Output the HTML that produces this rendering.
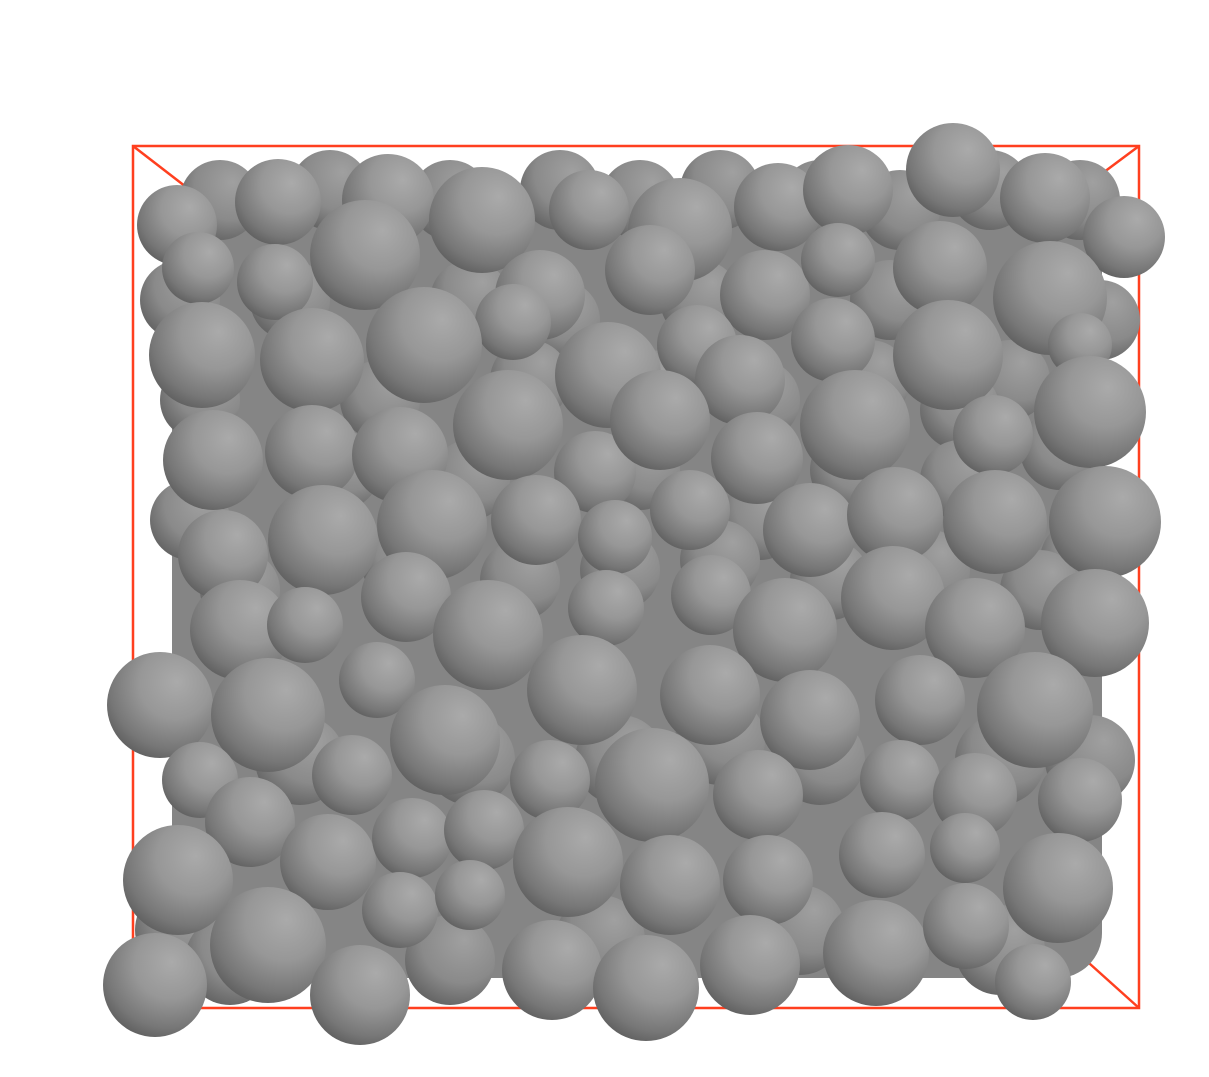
<!DOCTYPE html>
<html><head><meta charset="utf-8"><title>Sphere packing</title>
<style>html,body{margin:0;padding:0;background:#fff;}svg{display:block;}</style></head>
<body>
<svg id="scene" width="1209" height="1077" viewBox="0 0 1209 1077" xmlns="http://www.w3.org/2000/svg">
<defs>
<radialGradient id="sph" cx="0.62" cy="0.32" r="0.75" fx="0.66" fy="0.28">
<stop offset="0" stop-color="#aaaaaa"/>
<stop offset="0.45" stop-color="#979797"/>
<stop offset="0.8" stop-color="#777777"/>
<stop offset="1" stop-color="#5c5c5c"/>
</radialGradient>
<radialGradient id="sphb" cx="0.62" cy="0.32" r="0.75" fx="0.66" fy="0.28">
<stop offset="0" stop-color="#a0a0a0"/>
<stop offset="0.6" stop-color="#8a8a8a"/>
<stop offset="1" stop-color="#606060"/>
</radialGradient>
</defs>
<g id="box" stroke="#ff3f1f" stroke-width="2.5" fill="none">
<path d="M133,146 H1139 V1008 H133 Z"/>
<path d="M133,146 L190,190"/>
<path d="M1139,146 L1088,184"/>
<path d="M1139,1008 L1080,955"/>
</g>
<rect x="172" y="200" width="930" height="778" rx="45" fill="#858585"/>
<g id="back"></g>
<g id="front"></g>
</svg>
<script>
// background (deeper) spheres
const backX = [220,330,450,560,640,720,820,900,990,1080,180,290,470,560,700,890,1010,1100,200,380,530,650,760,870,960,1060,190,340,470,640,760,850,960,1080,240,400,520,620,720,830,930,1040,300,470,620,720,820,1000,1090,180,450,800,1000,230,600];
const backY = [200,190,200,190,200,190,200,210,190,200,300,300,300,320,300,300,380,320,400,400,380,390,400,380,410,450,520,470,480,470,520,470,480,560,590,560,580,570,560,580,570,590,760,760,760,740,760,760,760,930,960,930,950,960,940];
const backR = [40,40,40,40,40,40,40,40,40,40,40,40,40,40,40,40,40,40,40,40,40,40,40,40,40,40,40,40,40,40,40,40,40,40,40,40,40,40,40,40,40,40,45,45,45,45,45,45,45,45,45,45,45,45,45];
// front spheres
const sx = [177,278,388,482,589,680,778,848,953,1045,1124,198,275,365,540,513,650,765,838,940,1050,202,312,424,608,697,740,833,948,1080,213,312,400,508,595,660,757,855,993,1090,223,323,432,536,615,690,810,895,995,1105,240,305,406,488,606,711,785,893,975,1095,160,268,377,445,582,710,810,920,1035,200,250,352,550,652,758,900,975,1080,178,328,412,484,568,670,768,882,965,1058,155,268,360,400,470,552,646,750,876,966,1033];
const sy = [225,202,200,220,210,230,207,190,170,198,237,268,282,255,295,322,270,295,260,268,298,355,360,345,375,345,380,340,355,345,460,452,455,425,472,420,458,425,435,412,555,540,525,520,537,510,530,515,522,522,630,625,597,635,608,595,630,598,628,623,705,715,680,740,690,695,720,700,710,780,822,775,780,785,795,780,795,800,880,862,838,830,862,885,880,855,848,888,985,945,995,910,895,970,988,965,953,926,982];
const sr = [40,43,46,53,40,52,44,45,47,45,41,36,38,55,45,38,45,45,37,47,57,53,52,58,53,40,45,42,55,32,50,47,48,55,41,50,46,55,40,56,45,55,55,45,37,40,47,48,52,56,50,38,45,55,38,40,52,52,50,54,53,57,38,55,55,50,50,45,58,38,45,40,40,57,45,40,42,42,55,48,40,40,55,50,45,43,35,55,52,58,50,38,35,50,53,50,53,43,38];

const NS = 'http://www.w3.org/2000/svg';
function drawSet(gid, xs, ys, rs, fill, nm) {
  const g = document.getElementById(gid);
  for (let i = 0; i < xs.length; i++) {
    const c = document.createElementNS(NS, 'circle');
    c.setAttribute('cx', xs[i]);
    c.setAttribute('cy', ys[i]);
    c.setAttribute('r', rs[i]);
    c.setAttribute('fill', fill);
    
    
    g.appendChild(c);
  }
}
drawSet('back', backX, backY, backR, 'url(#sphb)', 'back-sphere');
drawSet('front', sx, sy, sr, 'url(#sph)', 'sphere');
</script>
</body></html>
